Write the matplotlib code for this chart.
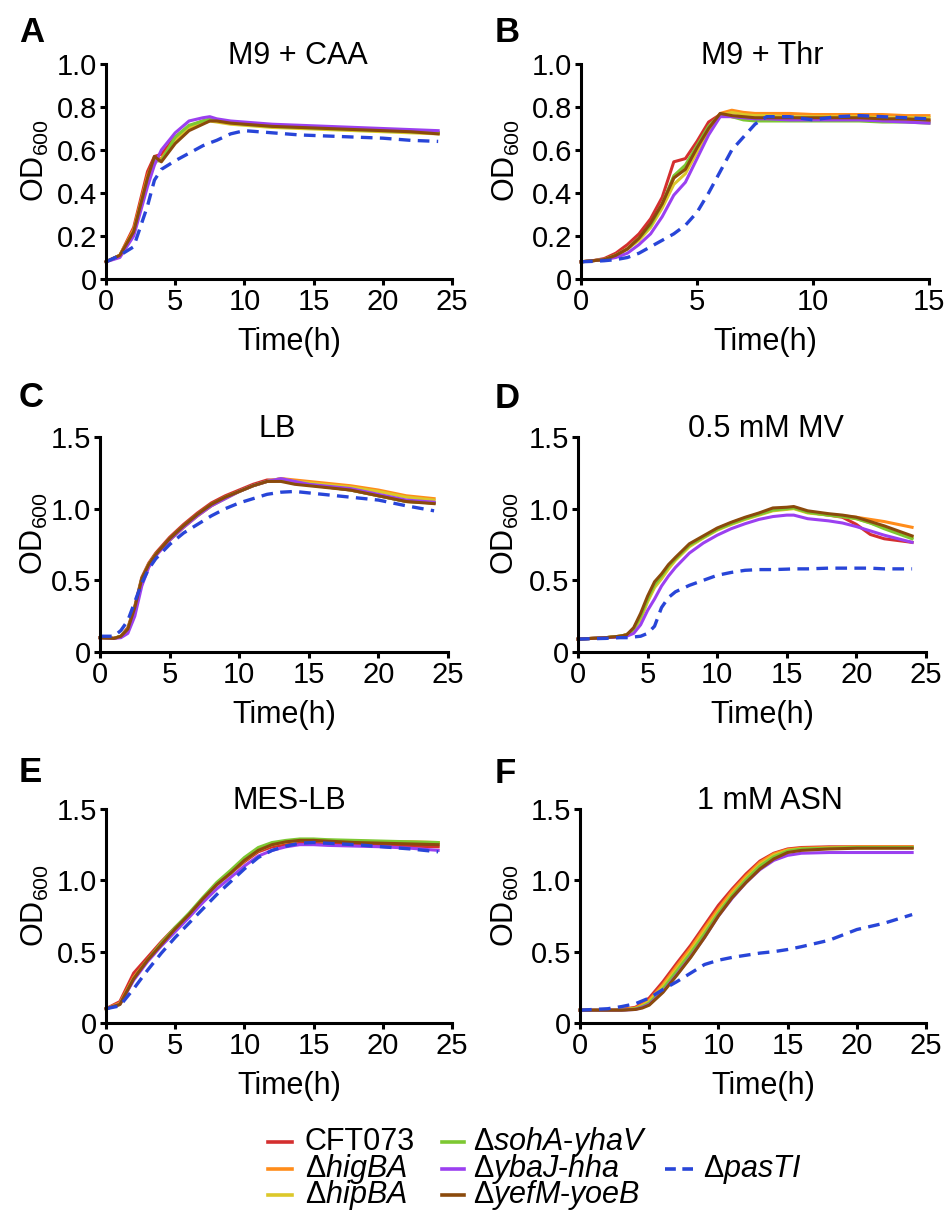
import matplotlib
matplotlib.use("Agg")
import matplotlib.pyplot as plt
from matplotlib.lines import Line2D

plt.rcParams["font.family"] = ["Liberation Sans", "DejaVu Sans"]
plt.rcParams["mathtext.fontset"] = "custom"
plt.rcParams["mathtext.rm"] = "Liberation Sans"
plt.rcParams["mathtext.it"] = "Liberation Sans:italic"

# strains in drawing order (last one is the dashed line)
strains = [
    "CFT073",
    "Δ$\\mathit{higBA}$",
    "Δ$\\mathit{hipBA}$",
    "Δ$\\mathit{sohA}$-$\\mathit{yhaV}$",
    "Δ$\\mathit{ybaJ}$-$\\mathit{hha}$",
    "Δ$\\mathit{yefM}$-$\\mathit{yoeB}$",
    "Δ$\\mathit{pasTI}$",
]
colors = ["#d42f2f", "#ff8c1a", "#dcc82a", "#7dc832", "#9b40f0", "#8b4a0c", "#2845d8"]

# A: M9 + CAA
time_caa = [0, 1, 2, 3, 3.5, 4, 5, 6, 7, 7.5, 8, 9, 10, 12, 14, 16, 18, 20, 22, 24]
od_caa = [
    [0.08, 0.11, 0.24, 0.50, 0.57, 0.58, 0.66, 0.71, 0.735, 0.74, 0.735, 0.725, 0.72, 0.71, 0.705, 0.70, 0.695, 0.69, 0.685, 0.68],
    [0.08, 0.11, 0.23, 0.48, 0.56, 0.56, 0.65, 0.705, 0.73, 0.74, 0.735, 0.725, 0.72, 0.71, 0.705, 0.70, 0.695, 0.69, 0.685, 0.68],
    [0.08, 0.11, 0.22, 0.47, 0.55, 0.55, 0.64, 0.70, 0.725, 0.735, 0.73, 0.72, 0.715, 0.705, 0.70, 0.695, 0.69, 0.685, 0.68, 0.675],
    [0.08, 0.105, 0.22, 0.46, 0.55, 0.55, 0.66, 0.715, 0.735, 0.745, 0.74, 0.73, 0.72, 0.71, 0.705, 0.70, 0.695, 0.69, 0.685, 0.68],
    [0.08, 0.10, 0.20, 0.43, 0.53, 0.60, 0.68, 0.735, 0.75, 0.755, 0.745, 0.735, 0.73, 0.72, 0.715, 0.71, 0.705, 0.70, 0.695, 0.69],
    [0.08, 0.11, 0.22, 0.47, 0.57, 0.545, 0.63, 0.69, 0.72, 0.735, 0.735, 0.725, 0.72, 0.71, 0.705, 0.70, 0.695, 0.69, 0.685, 0.675],
    [0.08, 0.11, 0.15, 0.34, 0.46, 0.51, 0.55, 0.585, 0.62, 0.633, 0.645, 0.675, 0.69, 0.68, 0.67, 0.665, 0.66, 0.655, 0.645, 0.64],
]

# B: M9 + Thr
time_thr = [0, 0.5, 1, 1.5, 2, 2.5, 3, 3.5, 4, 4.5, 5, 5.5, 6, 6.5, 7, 7.5, 8, 9, 10, 11, 12, 13, 14, 15]
od_thr = [
    [0.08, 0.085, 0.095, 0.12, 0.16, 0.21, 0.28, 0.38, 0.545, 0.56, 0.64, 0.73, 0.765, 0.755, 0.75, 0.745, 0.745, 0.745, 0.745, 0.745, 0.745, 0.74, 0.74, 0.735],
    [0.08, 0.085, 0.09, 0.11, 0.14, 0.19, 0.25, 0.34, 0.47, 0.52, 0.61, 0.70, 0.77, 0.785, 0.775, 0.77, 0.77, 0.77, 0.765, 0.765, 0.765, 0.765, 0.76, 0.76],
    [0.08, 0.085, 0.09, 0.11, 0.14, 0.18, 0.24, 0.33, 0.44, 0.49, 0.59, 0.69, 0.76, 0.775, 0.765, 0.76, 0.76, 0.755, 0.755, 0.755, 0.755, 0.75, 0.75, 0.75],
    [0.08, 0.085, 0.09, 0.11, 0.14, 0.19, 0.25, 0.35, 0.48, 0.53, 0.62, 0.71, 0.765, 0.755, 0.74, 0.735, 0.735, 0.735, 0.735, 0.735, 0.735, 0.73, 0.73, 0.725],
    [0.08, 0.085, 0.09, 0.10, 0.12, 0.16, 0.21, 0.29, 0.39, 0.45, 0.56, 0.67, 0.755, 0.755, 0.75, 0.745, 0.745, 0.74, 0.74, 0.74, 0.74, 0.735, 0.73, 0.725],
    [0.08, 0.085, 0.09, 0.11, 0.14, 0.19, 0.26, 0.35, 0.47, 0.51, 0.61, 0.70, 0.77, 0.76, 0.755, 0.75, 0.75, 0.75, 0.75, 0.75, 0.75, 0.745, 0.745, 0.74],
    [0.08, 0.082, 0.085, 0.09, 0.10, 0.12, 0.15, 0.18, 0.21, 0.25, 0.31, 0.40, 0.50, 0.60, 0.66, 0.72, 0.755, 0.755, 0.74, 0.755, 0.76, 0.755, 0.75, 0.745],
]

# C: LB
time_lb = [0, 1, 1.5, 2, 2.5, 3, 3.5, 4, 5, 6, 7, 8, 9, 10, 11, 12, 13, 14, 15, 16, 18, 20, 22, 24]
od_lb = [
    [0.10, 0.095, 0.11, 0.17, 0.32, 0.52, 0.62, 0.69, 0.80, 0.89, 0.97, 1.04, 1.09, 1.13, 1.17, 1.20, 1.20, 1.18, 1.165, 1.155, 1.13, 1.09, 1.05, 1.04],
    [0.10, 0.095, 0.11, 0.16, 0.30, 0.50, 0.61, 0.68, 0.78, 0.87, 0.95, 1.02, 1.08, 1.12, 1.16, 1.19, 1.21, 1.20, 1.19, 1.18, 1.16, 1.13, 1.09, 1.07],
    [0.10, 0.095, 0.11, 0.16, 0.30, 0.50, 0.61, 0.68, 0.78, 0.87, 0.95, 1.02, 1.07, 1.12, 1.16, 1.19, 1.21, 1.19, 1.18, 1.17, 1.15, 1.12, 1.08, 1.06],
    [0.10, 0.095, 0.11, 0.16, 0.31, 0.51, 0.61, 0.68, 0.79, 0.88, 0.96, 1.03, 1.08, 1.12, 1.16, 1.19, 1.20, 1.18, 1.17, 1.155, 1.13, 1.09, 1.05, 1.04],
    [0.10, 0.095, 0.10, 0.13, 0.25, 0.46, 0.59, 0.67, 0.78, 0.87, 0.95, 1.02, 1.07, 1.12, 1.16, 1.19, 1.21, 1.19, 1.17, 1.16, 1.14, 1.10, 1.06, 1.045],
    [0.10, 0.095, 0.11, 0.16, 0.31, 0.51, 0.61, 0.68, 0.79, 0.88, 0.96, 1.03, 1.08, 1.12, 1.16, 1.19, 1.19, 1.17, 1.16, 1.15, 1.13, 1.09, 1.05, 1.035],
    [0.11, 0.11, 0.15, 0.22, 0.35, 0.48, 0.58, 0.65, 0.75, 0.83, 0.89, 0.95, 1.00, 1.04, 1.07, 1.10, 1.115, 1.12, 1.11, 1.10, 1.08, 1.06, 1.02, 0.985],
]

# D: 0.5 mM MV
time_mv = [0, 2, 3, 3.5, 4, 4.5, 5, 5.5, 6, 6.5, 7, 8, 9, 10, 11, 12, 13, 14, 15, 15.5, 16.5, 18, 19, 20, 21, 22, 24]
od_mv = [
    [0.09, 0.10, 0.11, 0.12, 0.16, 0.25, 0.37, 0.47, 0.53, 0.60, 0.65, 0.745, 0.80, 0.86, 0.90, 0.935, 0.965, 0.995, 1.00, 1.005, 0.975, 0.955, 0.94, 0.89, 0.82, 0.79, 0.765],
    [0.09, 0.10, 0.11, 0.12, 0.15, 0.24, 0.36, 0.46, 0.52, 0.59, 0.645, 0.74, 0.80, 0.855, 0.895, 0.93, 0.96, 0.99, 1.00, 1.005, 0.975, 0.96, 0.95, 0.94, 0.925, 0.91, 0.87],
    [0.09, 0.10, 0.11, 0.12, 0.15, 0.23, 0.35, 0.45, 0.51, 0.58, 0.64, 0.735, 0.795, 0.85, 0.89, 0.925, 0.955, 0.985, 0.995, 1.00, 0.97, 0.955, 0.945, 0.93, 0.90, 0.87, 0.80],
    [0.09, 0.10, 0.11, 0.12, 0.16, 0.25, 0.37, 0.47, 0.53, 0.60, 0.65, 0.745, 0.80, 0.855, 0.895, 0.93, 0.96, 0.99, 1.00, 1.005, 0.975, 0.955, 0.945, 0.93, 0.90, 0.86, 0.79],
    [0.09, 0.10, 0.105, 0.11, 0.13, 0.19, 0.29, 0.37, 0.46, 0.53, 0.59, 0.69, 0.76, 0.815, 0.86, 0.895, 0.925, 0.945, 0.955, 0.955, 0.93, 0.915, 0.90, 0.875, 0.845, 0.815, 0.765],
    [0.09, 0.10, 0.11, 0.12, 0.17, 0.27, 0.39, 0.49, 0.545, 0.61, 0.66, 0.755, 0.81, 0.865, 0.905, 0.94, 0.97, 1.005, 1.01, 1.015, 0.985, 0.965, 0.955, 0.94, 0.91, 0.88, 0.81],
    [0.09, 0.095, 0.10, 0.10, 0.105, 0.11, 0.13, 0.18, 0.31, 0.38, 0.42, 0.465, 0.50, 0.535, 0.555, 0.57, 0.575, 0.575, 0.578, 0.58, 0.58, 0.585, 0.585, 0.585, 0.585, 0.58, 0.58],
]

# E: MES-LB
time_mes = [0, 1, 2, 3, 4, 5, 6, 7, 8, 9, 10, 11, 12, 13, 14, 15, 16, 18, 20, 22, 24]
od_mes = [
    [0.10, 0.15, 0.35, 0.46, 0.57, 0.67, 0.76, 0.87, 0.97, 1.05, 1.13, 1.20, 1.235, 1.25, 1.26, 1.26, 1.255, 1.25, 1.245, 1.24, 1.235],
    [0.10, 0.14, 0.32, 0.44, 0.56, 0.66, 0.76, 0.87, 0.97, 1.05, 1.14, 1.21, 1.25, 1.27, 1.28, 1.28, 1.28, 1.275, 1.27, 1.27, 1.265],
    [0.10, 0.13, 0.31, 0.44, 0.55, 0.66, 0.755, 0.865, 0.97, 1.05, 1.14, 1.21, 1.25, 1.27, 1.28, 1.28, 1.275, 1.27, 1.265, 1.26, 1.26],
    [0.10, 0.13, 0.31, 0.44, 0.56, 0.67, 0.77, 0.88, 0.985, 1.07, 1.16, 1.23, 1.265, 1.28, 1.29, 1.29, 1.285, 1.28, 1.275, 1.27, 1.265],
    [0.10, 0.13, 0.30, 0.43, 0.54, 0.64, 0.74, 0.845, 0.94, 1.02, 1.10, 1.17, 1.21, 1.235, 1.25, 1.25, 1.245, 1.24, 1.235, 1.225, 1.21],
    [0.10, 0.13, 0.31, 0.44, 0.55, 0.66, 0.76, 0.87, 0.97, 1.05, 1.14, 1.21, 1.25, 1.27, 1.28, 1.28, 1.275, 1.265, 1.26, 1.255, 1.25],
    [0.10, 0.12, 0.24, 0.37, 0.49, 0.60, 0.70, 0.80, 0.90, 0.99, 1.08, 1.16, 1.21, 1.24, 1.26, 1.265, 1.26, 1.25, 1.235, 1.22, 1.20],
]

# F: 1 mM ASN
time_asn = [0, 1, 2, 3, 4, 4.5, 5, 6, 7, 8, 9, 10, 11, 12, 13, 14, 15, 16, 18, 20, 22, 24]
od_asn = [
    [0.09, 0.09, 0.09, 0.095, 0.11, 0.14, 0.175, 0.29, 0.42, 0.545, 0.685, 0.825, 0.94, 1.045, 1.135, 1.19, 1.22, 1.23, 1.235, 1.235, 1.235, 1.235],
    [0.09, 0.09, 0.09, 0.095, 0.105, 0.13, 0.16, 0.27, 0.40, 0.525, 0.665, 0.80, 0.925, 1.03, 1.125, 1.185, 1.215, 1.225, 1.23, 1.235, 1.235, 1.235],
    [0.09, 0.09, 0.09, 0.09, 0.10, 0.12, 0.15, 0.255, 0.38, 0.505, 0.645, 0.78, 0.905, 1.015, 1.11, 1.175, 1.21, 1.22, 1.225, 1.23, 1.23, 1.23],
    [0.09, 0.09, 0.09, 0.09, 0.10, 0.115, 0.14, 0.24, 0.365, 0.49, 0.625, 0.77, 0.895, 1.005, 1.10, 1.165, 1.205, 1.22, 1.225, 1.23, 1.23, 1.23],
    [0.09, 0.09, 0.09, 0.09, 0.095, 0.11, 0.13, 0.22, 0.34, 0.465, 0.60, 0.75, 0.875, 0.985, 1.075, 1.14, 1.175, 1.19, 1.195, 1.195, 1.195, 1.195],
    [0.09, 0.09, 0.09, 0.09, 0.095, 0.105, 0.125, 0.215, 0.335, 0.46, 0.60, 0.75, 0.88, 0.985, 1.08, 1.15, 1.195, 1.21, 1.22, 1.225, 1.225, 1.225],
    [0.09, 0.095, 0.10, 0.115, 0.135, 0.155, 0.175, 0.235, 0.29, 0.35, 0.41, 0.44, 0.46, 0.475, 0.49, 0.50, 0.515, 0.535, 0.58, 0.655, 0.70, 0.76],
]

yticks_small = [0, 0.2, 0.4, 0.6, 0.8, 1.0]
ylabels_small = ["0", "0.2", "0.4", "0.6", "0.8", "1.0"]
yticks_big = [0, 0.5, 1.0, 1.5]
ylabels_big = ["0", "0.5", "1.0", "1.5"]
xticks_24 = [0, 5, 10, 15, 20, 25]
xticks_15 = [0, 5, 10, 15]

W, H = 948, 1211
fig = plt.figure(figsize=(W / 100, H / 100), dpi=100)


def px_rect(x0, x1, ytop, ybot):
    return [x0 / W, 1 - ybot / H, (x1 - x0) / W, (ybot - ytop) / H]


def draw_panel(rect, letter, letter_pos, title, title_x, t, series, xmax, xticks,
               ymax, yticks, ylabels, ylab_x):
    ax = fig.add_axes(rect)
    for vals, c in zip(series[:-1], colors[:-1]):
        ax.plot(t, vals, color=c, lw=2.2, solid_joinstyle="round", clip_on=False)
    ax.plot(t, series[-1], color=colors[-1], lw=2.4, dashes=(3.5, 2.2), clip_on=False)
    ax.set_xlim(0, xmax)
    ax.set_ylim(0, ymax)
    ax.set_xticks(xticks)
    ax.set_yticks(yticks)
    ax.set_yticklabels(ylabels)
    for s in ["top", "right"]:
        ax.spines[s].set_visible(False)
    for s in ["left", "bottom"]:
        ax.spines[s].set_linewidth(2.2)
    ax.tick_params(direction="out", length=4.5, width=2.2, labelsize=21, pad=2)
    ax.set_xlabel("Time(h)", fontsize=22)
    ax.xaxis.set_label_coords(0.53, -0.225)
    ax.set_ylabel(r"OD$_{\mathrm{600}}$", fontsize=22)
    ax.yaxis.set_label_coords(ylab_x, 0.55)
    ax.text(title_x, 1.0, title, transform=ax.transAxes, ha="center",
            va="baseline", fontsize=22)
    fig.text(letter_pos[0] / W, 1 - letter_pos[1] / H, letter, fontsize=25,
             fontweight="bold", ha="left", va="baseline")
    return ax


draw_panel(px_rect(106, 452, 64, 279), "A", (19, 42), "M9 + CAA", 0.555,
           time_caa, od_caa, 25, xticks_24, 1.0, yticks_small, ylabels_small, -0.16)
draw_panel(px_rect(581, 929, 64, 279), "B", (495, 42), "M9 + Thr", 0.52,
           time_thr, od_thr, 15, xticks_15, 1.0, yticks_small, ylabels_small, -0.17)
draw_panel(px_rect(100, 448, 437, 652), "C", (19, 407), "LB", 0.51,
           time_lb, od_lb, 25, xticks_24, 1.5, yticks_big, ylabels_big, -0.145)
draw_panel(px_rect(578, 926, 437, 652), "D", (495, 408), "0.5 mM MV", 0.54,
           time_mv, od_mv, 25, xticks_24, 1.5, yticks_big, ylabels_big, -0.165)
draw_panel(px_rect(106, 452, 809, 1023), "E", (19, 782), "MES-LB", 0.53,
           time_mes, od_mes, 25, xticks_24, 1.5, yticks_big, ylabels_big, -0.16)
draw_panel(px_rect(580, 926, 809, 1023), "F", (495, 783), "1 mM ASN", 0.55,
           time_asn, od_asn, 25, xticks_24, 1.5, yticks_big, ylabels_big, -0.17)

# legend drawn by hand, three columns
legend_cols = [(268, 292, 305), (442, 464, 473), (665, 693, 703)]
legend_rows = [1150, 1177, 1203]
slots = [(0, 0), (0, 1), (0, 2), (1, 0), (1, 1), (1, 2), (2, 1)]
for (ci, ri), name, c in zip(slots, strains, colors):
    x0, x1, xt = legend_cols[ci]
    yb = legend_rows[ri]
    yl = 1 - (yb - 8) / H
    ln = Line2D([x0 / W, x1 / W], [yl, yl], color=c, lw=2.6, transform=fig.transFigure)
    if ci == 2:
        ln.set_dashes((3.0, 1.8))
    fig.add_artist(ln)
    fig.text(xt / W, 1 - yb / H, name, fontsize=22, ha="left", va="baseline")

fig.savefig("out.png", dpi=100)
